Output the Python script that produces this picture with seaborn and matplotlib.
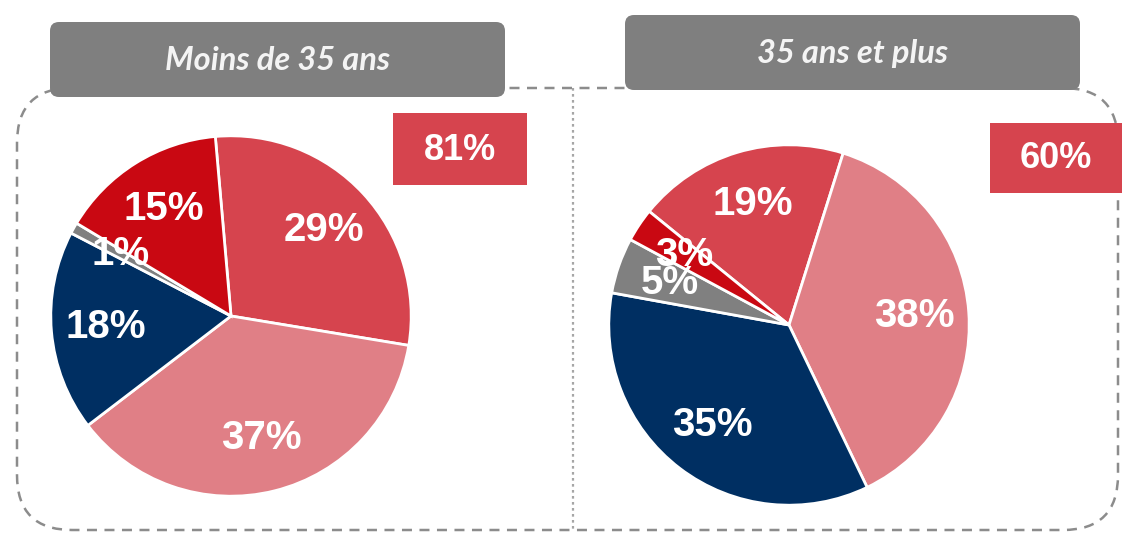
import matplotlib
matplotlib.use("Agg")
import matplotlib.pyplot as plt
from matplotlib.patches import FancyBboxPatch, Rectangle
import seaborn as sns

# slice order is the same for both pies (clockwise)
segments = ["rouge", "rose", "marine", "gris", "rouge vif"]
young_values = [29, 37, 18, 1, 15]
older_values = [19, 38, 35, 5, 3]
group_titles = ["Moins de 35 ans", "35 ans et plus"]
red_totals = ["81%", "60%"]

palette = ["#d6444e", "#e07f86", "#002f62", "#808080", "#c90812"]

sns.set_theme(style="white")
plt.rcParams["font.family"] = ["Liberation Sans", "DejaVu Sans"]

W, H = 1131, 536
fig = plt.figure(figsize=(W / 100, H / 100), dpi=100)

# background axes in pixel coordinates for the frame and boxes
bg = fig.add_axes([0, 0, 1, 1])
bg.set_xlim(0, W)
bg.set_ylim(H, 0)
bg.axis("off")

frame = FancyBboxPatch((17, 88), 1101, 442,
                       boxstyle="round,pad=0,rounding_size=55",
                       fill=False, edgecolor="#8c8c8c", linewidth=1.8,
                       linestyle=(0, (4, 3)), zorder=1)
bg.add_patch(frame)
bg.plot([573, 573], [88, 530], color="#a6a6a6", linewidth=1.6,
        linestyle=(0, (1.2, 1.5)), zorder=1)

headers = [(50, 22, 455, 75), (625, 15, 455, 75)]
for (x, y, w, h), title in zip(headers, group_titles):
    bg.add_patch(FancyBboxPatch((x, y), w, h,
                                boxstyle="round,pad=0,rounding_size=9",
                                facecolor="#7f7f7f", edgecolor="none", zorder=3))
    bg.text(x + w / 2, y + h / 2 + 1, title, ha="center", va="center",
            color="#f4f4f4", fontsize=23.5, fontweight="bold", fontstyle="italic",
            family=["Lato", "DejaVu Sans"], zorder=4)

red_boxes = [(393, 113, 134, 72), (990, 123, 132, 70)]
for (x, y, w, h), txt in zip(red_boxes, red_totals):
    bg.add_patch(Rectangle((x, y), w, h, facecolor="#d6444e",
                           edgecolor="none", zorder=3))
    bg.text(x + w / 2, y + h / 2 + 1, txt, ha="center", va="center",
            color="white", fontsize=26, fontweight="bold", zorder=4)

# pies: (center x, center y, radius, start angle)
pies = [(231, 316, 182, 95, young_values), (789, 325, 182, 140.9, older_values)]
for cx, cy, r, start, values in pies:
    ax = fig.add_axes([(cx - r) / W, (H - cy - r) / H, 2 * r / W, 2 * r / H])
    wedges, texts, autotexts = ax.pie(
        values, colors=palette, startangle=start, counterclock=False,
        autopct=lambda p: f"{p:.0f}%", pctdistance=0.7,
        wedgeprops={"edgecolor": "white", "linewidth": 2},
    )
    for t in autotexts:
        t.set_color("white")
        t.set_fontsize(29)
        t.set_fontweight("bold")
    ax.set_xlim(-1.01, 1.01)
    ax.set_ylim(-1.01, 1.01)
    ax.set_aspect("equal")
    ax.axis("off")

fig.savefig("out.png", dpi=100)
